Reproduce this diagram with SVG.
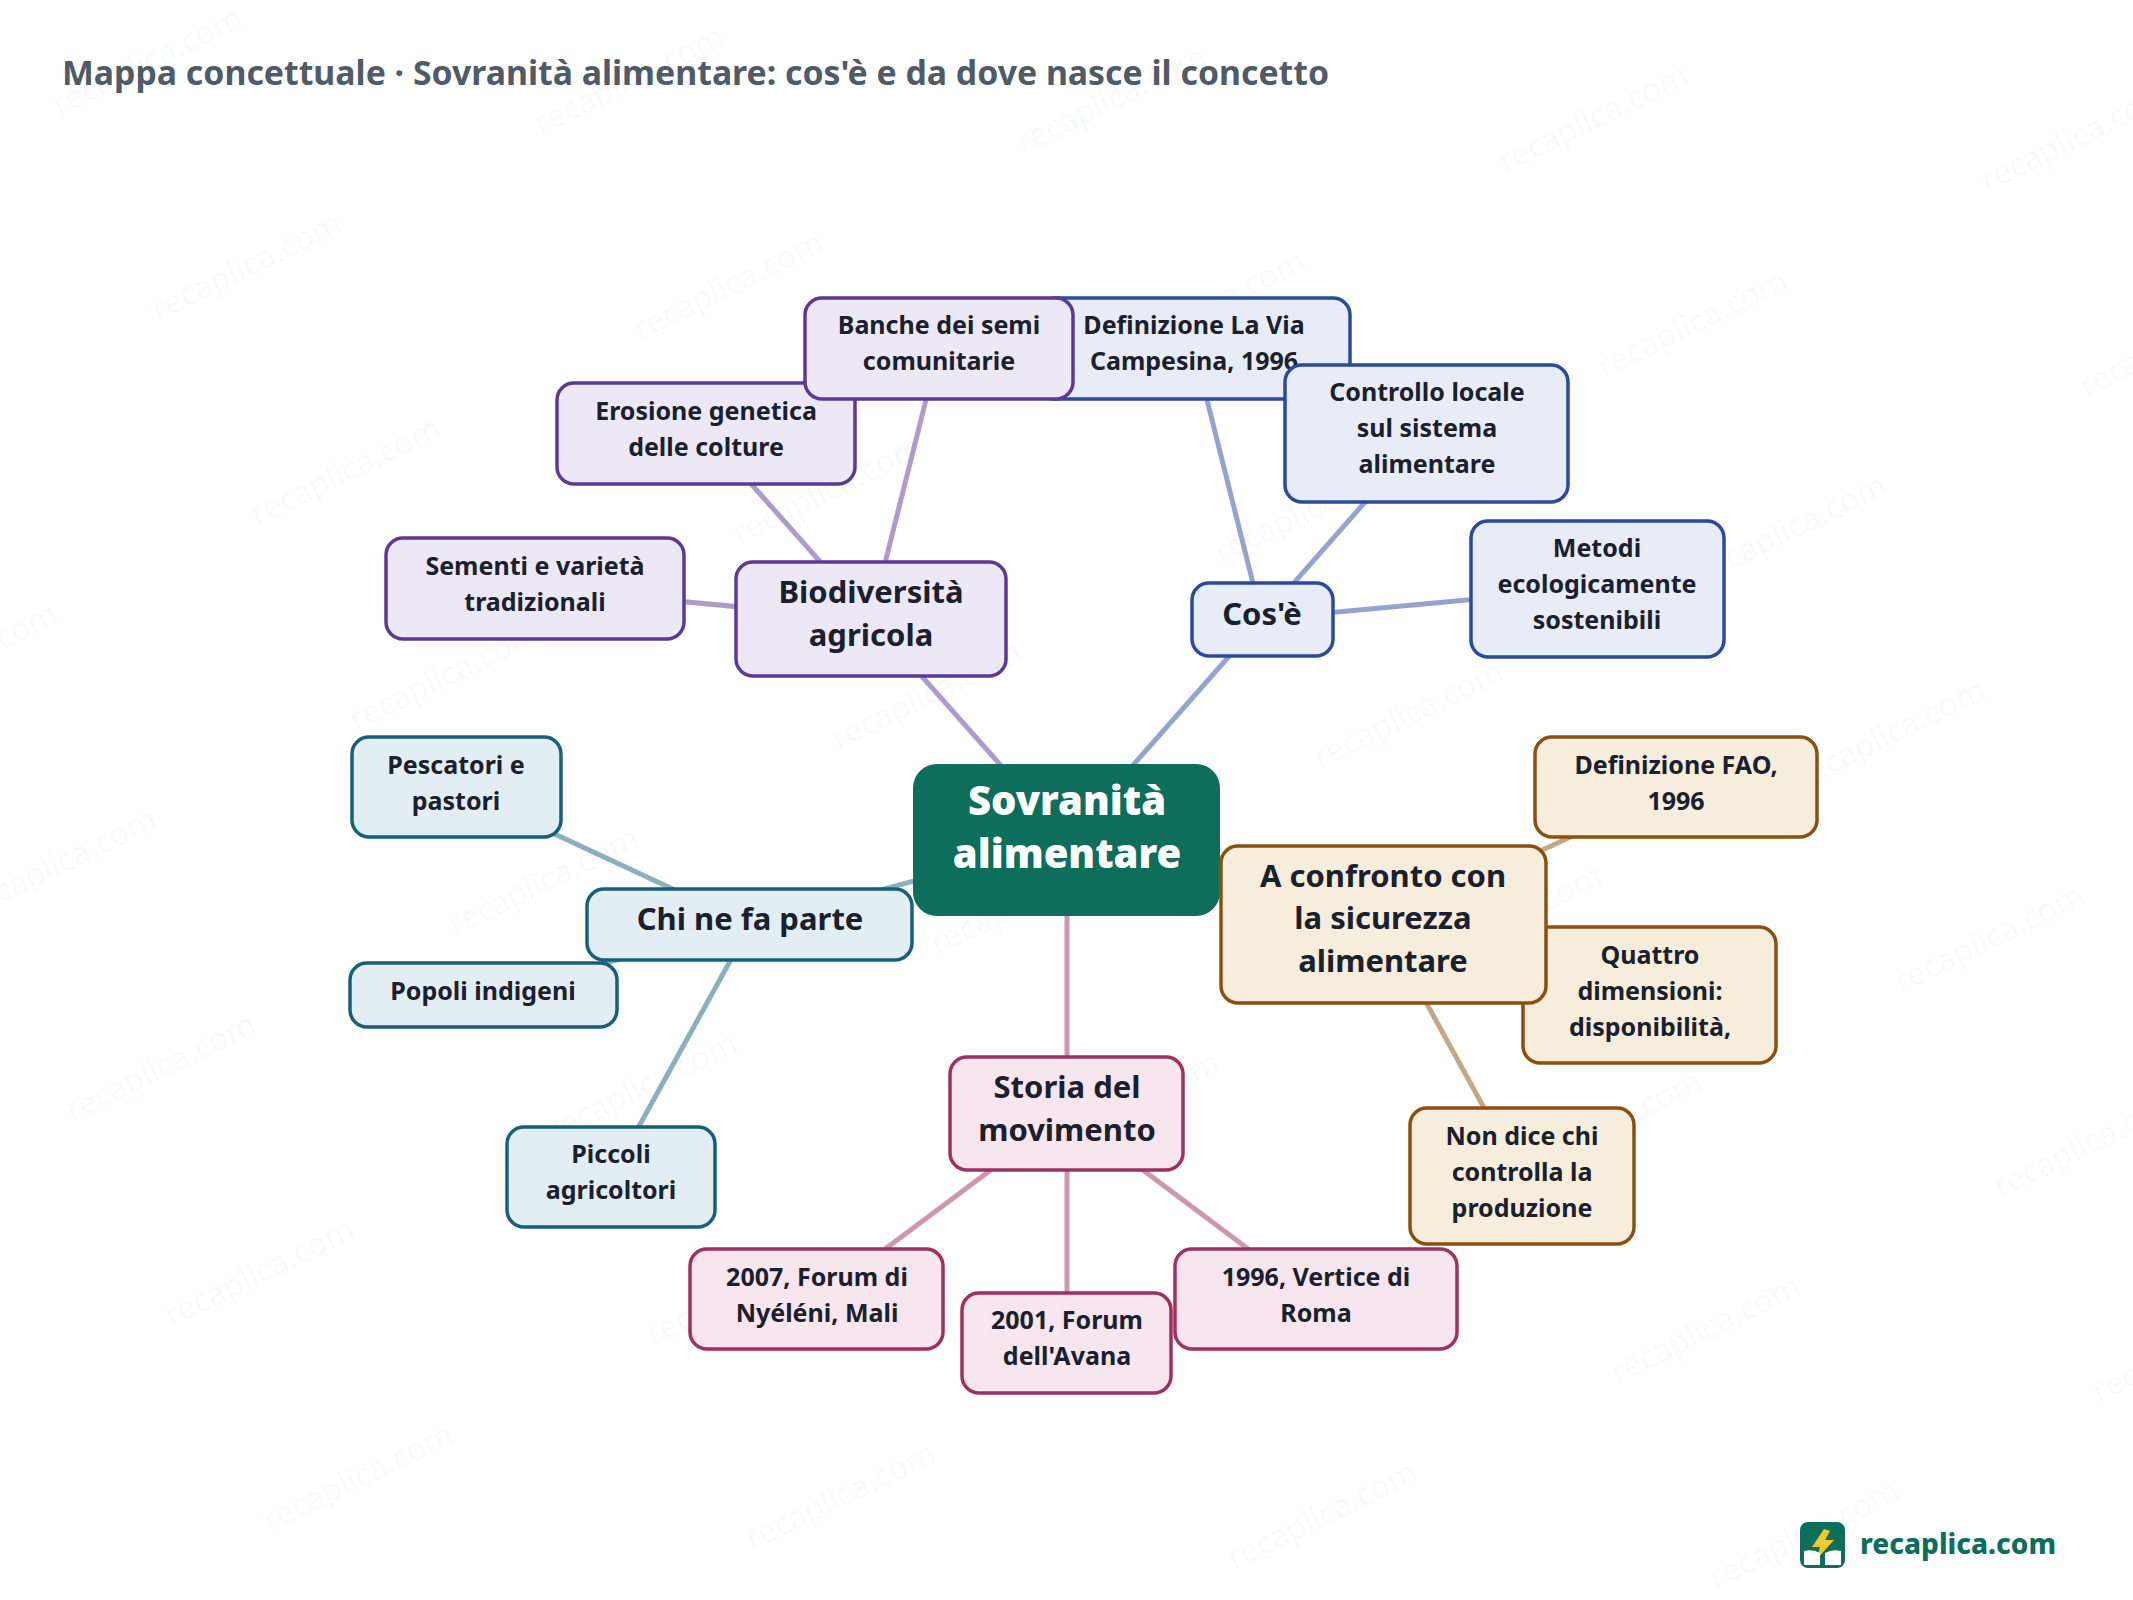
<svg xmlns="http://www.w3.org/2000/svg" width="2133" height="1600" viewBox="0 0 2133 1600">
<style>
text{font-family:"Noto Sans","Lato","Liberation Sans",sans-serif;text-anchor:middle}
.wm{font-size:32px;font-weight:400;fill:#0e6e5c;fill-opacity:.04}
.t{font-size:33.8px;font-weight:700;fill:#4f5b67;text-anchor:start}
.l{font-size:25px;font-weight:700;fill:#1a202c}
.m{font-size:31px;font-weight:700;fill:#1a202c}
.r{font-size:40px;font-weight:900;fill:#fff}
rect{stroke-width:3.5}
.pu rect{fill:#ede8f6;stroke:#5b3a96}
.bl rect{fill:#e7ecf7;stroke:#2b4a9e}
.te rect{fill:#e3eef4;stroke:#17607a}
.pi rect{fill:#f7e6ee;stroke:#a03060}
.br rect{fill:#f7eddd;stroke:#8a5010}
#connectors line{stroke-width:5;stroke-opacity:.5}
.cpu{stroke:#5b3a96}.cbl{stroke:#2b4a9e}.cte{stroke:#17607a}.cpi{stroke:#a03060}.cbr{stroke:#8a5010}
</style>
<defs><text id="wm" class="wm" transform="translate(2 4) rotate(-26)">recaplica.com</text></defs>
<rect width="2133" height="1600" fill="#fff" stroke="none"/>
<g id="watermark">
<use href="#wm" x="150" y="67"/><use href="#wm" x="632" y="86"/><use href="#wm" x="1114" y="105"/><use href="#wm" x="1596" y="124"/><use href="#wm" x="2078" y="143"/>
<use href="#wm" x="249" y="272"/><use href="#wm" x="731" y="291"/><use href="#wm" x="1213" y="310"/><use href="#wm" x="1695" y="329"/><use href="#wm" x="2177" y="348"/>
<use href="#wm" x="348" y="477"/><use href="#wm" x="830" y="496"/><use href="#wm" x="1312" y="515"/><use href="#wm" x="1794" y="534"/>
<use href="#wm" x="-35" y="663"/><use href="#wm" x="447" y="682"/><use href="#wm" x="929" y="701"/><use href="#wm" x="1411" y="720"/><use href="#wm" x="1893" y="739"/>
<use href="#wm" x="64" y="868"/><use href="#wm" x="546" y="887"/><use href="#wm" x="1028" y="906"/><use href="#wm" x="1510" y="925"/><use href="#wm" x="1992" y="944"/>
<use href="#wm" x="163" y="1073"/><use href="#wm" x="645" y="1092"/><use href="#wm" x="1127" y="1111"/><use href="#wm" x="1609" y="1130"/><use href="#wm" x="2091" y="1149"/>
<use href="#wm" x="262" y="1278"/><use href="#wm" x="744" y="1297"/><use href="#wm" x="1226" y="1316"/><use href="#wm" x="1708" y="1335"/><use href="#wm" x="2190" y="1354"/>
<use href="#wm" x="361" y="1483"/><use href="#wm" x="843" y="1502"/><use href="#wm" x="1325" y="1521"/><use href="#wm" x="1807" y="1540"/>
</g>
<text class="t" x="62" y="85">Mappa concettuale · Sovranità alimentare: cos'è e da dove nasce il concetto</text>
<g id="connectors">
<line class="cpu" x1="1067" y1="840" x2="871" y2="619"/>
<line class="cbl" x1="1067" y1="840" x2="1262" y2="619"/>
<line class="cte" x1="1067" y1="840" x2="750" y2="925"/>
<line class="cbr" x1="1067" y1="840" x2="1383" y2="924"/>
<line class="cpi" x1="1067" y1="840" x2="1067" y2="1113"/>
<line class="cpu" x1="871" y1="619" x2="535" y2="588"/>
<line class="cpu" x1="871" y1="619" x2="706" y2="433"/>
<line class="cpu" x1="871" y1="619" x2="939" y2="348"/>
<line class="cbl" x1="1262" y1="619" x2="1194" y2="348"/>
<line class="cbl" x1="1262" y1="619" x2="1426" y2="433"/>
<line class="cbl" x1="1262" y1="619" x2="1597" y2="588"/>
<line class="cte" x1="750" y1="925" x2="456" y2="788"/>
<line class="cte" x1="750" y1="925" x2="483" y2="995"/>
<line class="cte" x1="750" y1="925" x2="611" y2="1177"/>
<line class="cpi" x1="1067" y1="1113" x2="817" y2="1300"/>
<line class="cpi" x1="1067" y1="1113" x2="1067" y2="1343"/>
<line class="cpi" x1="1067" y1="1113" x2="1316" y2="1300"/>
<line class="cbr" x1="1383" y1="924" x2="1676" y2="788"/>
<line class="cbr" x1="1383" y1="924" x2="1650" y2="995"/>
<line class="cbr" x1="1383" y1="924" x2="1522" y2="1177"/>
</g>
<g id="n-definizione" class="bl"><rect x="1038" y="298" width="312" height="101" rx="17"/><text class="l" x="1194" y="334">Definizione La Via</text><text class="l" x="1194" y="370">Campesina, 1996</text></g>
<g id="n-controllo" class="bl"><rect x="1285" y="365" width="283" height="137" rx="17"/><text class="l" x="1427" y="401">Controllo locale</text><text class="l" x="1427" y="437">sul sistema</text><text class="l" x="1427" y="473">alimentare</text></g>
<g id="n-metodi" class="bl"><rect x="1471" y="521" width="253" height="136" rx="17"/><text class="l" x="1597" y="557">Metodi</text><text class="l" x="1597" y="593">ecologicamente</text><text class="l" x="1597" y="629">sostenibili</text></g>
<g id="n-cose" class="bl"><rect x="1192" y="583" width="141" height="73" rx="17"/><text class="m" x="1262" y="625">Cos'è</text></g>
<g id="n-erosione" class="pu"><rect x="557" y="383" width="298" height="101" rx="17"/><text class="l" x="706" y="420">Erosione genetica</text><text class="l" x="706" y="456">delle colture</text></g>
<g id="n-banche" class="pu"><rect x="805" y="298" width="268" height="101" rx="17"/><text class="l" x="939" y="334">Banche dei semi</text><text class="l" x="939" y="370">comunitarie</text></g>
<g id="n-sementi" class="pu"><rect x="386" y="538" width="298" height="101" rx="17"/><text class="l" x="535" y="575">Sementi e varietà</text><text class="l" x="535" y="611">tradizionali</text></g>
<g id="n-biodiversita" class="pu"><rect x="736" y="562" width="270" height="114" rx="17"/><text class="m" x="871" y="603">Biodiversità</text><text class="m" x="871" y="646">agricola</text></g>
<g id="n-pescatori" class="te"><rect x="352" y="737" width="209" height="100" rx="17"/><text class="l" x="456" y="774">Pescatori e</text><text class="l" x="456" y="810">pastori</text></g>
<g id="n-popoli" class="te"><rect x="350" y="963" width="267" height="64" rx="17"/><text class="l" x="483" y="1000">Popoli indigeni</text></g>
<g id="n-piccoli" class="te"><rect x="507" y="1127" width="208" height="100" rx="17"/><text class="l" x="611" y="1163">Piccoli</text><text class="l" x="611" y="1199">agricoltori</text></g>
<g id="n-chi" class="te"><rect x="587" y="889" width="325" height="71" rx="17"/><text class="m" x="750" y="930">Chi ne fa parte</text></g>
<g id="n-2007" class="pi"><rect x="690" y="1249" width="253" height="100" rx="17"/><text class="l" x="817" y="1286">2007, Forum di</text><text class="l" x="817" y="1322">Nyéléni, Mali</text></g>
<g id="n-2001" class="pi"><rect x="962" y="1293" width="209" height="100" rx="17"/><text class="l" x="1067" y="1329">2001, Forum</text><text class="l" x="1067" y="1365">dell'Avana</text></g>
<g id="n-1996" class="pi"><rect x="1175" y="1249" width="282" height="100" rx="17"/><text class="l" x="1316" y="1286">1996, Vertice di</text><text class="l" x="1316" y="1322">Roma</text></g>
<g id="n-storia" class="pi"><rect x="950" y="1057" width="233" height="113" rx="17"/><text class="m" x="1067" y="1098">Storia del</text><text class="m" x="1067" y="1141">movimento</text></g>
<g id="n-fao" class="br"><rect x="1535" y="737" width="282" height="100" rx="17"/><text class="l" x="1676" y="774">Definizione FAO,</text><text class="l" x="1676" y="810">1996</text></g>
<g id="n-quattro" class="br"><rect x="1523" y="927" width="253" height="136" rx="17"/><text class="l" x="1650" y="964">Quattro</text><text class="l" x="1650" y="1000">dimensioni:</text><text class="l" x="1650" y="1036">disponibilità,</text></g>
<g id="n-nondice" class="br"><rect x="1410" y="1108" width="224" height="136" rx="17"/><text class="l" x="1522" y="1145">Non dice chi</text><text class="l" x="1522" y="1181">controlla la</text><text class="l" x="1522" y="1217">produzione</text></g>
<g id="n-root"><rect x="913" y="764" width="307" height="152" rx="24" fill="#0e6e5c" stroke="none"/><text class="r" x="1067" y="815">Sovranità</text><text class="r" x="1067" y="868">alimentare</text></g>
<g id="n-confronto" class="br"><rect x="1221" y="846" width="325" height="157" rx="17"/><text class="m" x="1383" y="887">A confronto con</text><text class="m" x="1383" y="929">la sicurezza</text><text class="m" x="1383" y="972">alimentare</text></g>
<g id="logo">
<rect x="1800" y="1522" width="45" height="46" rx="8" fill="#0e6e5c" stroke="none"/>
<path d="M1824 1529L1812 1547H1820L1817 1559L1834 1540H1825L1830 1531Z" fill="#f5c92e"/>
<path d="M1804 1551Q1813 1549 1820 1553V1565H1804ZM1825 1553Q1832 1549 1841 1551V1565H1825Z" fill="#fff"/>
<text x="1860" y="1554" style="font-size:28px;font-weight:800;fill:#0e6e5c;text-anchor:start">recaplica.com</text>
</g>
</svg>
